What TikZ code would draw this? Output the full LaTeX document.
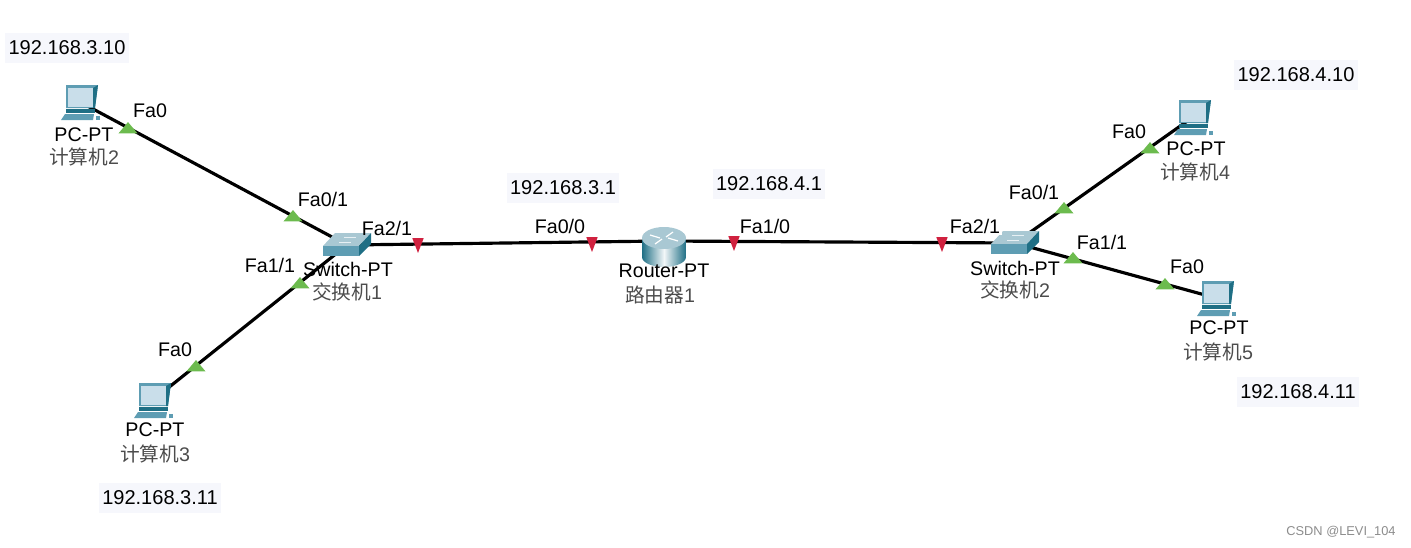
\documentclass[tikz,border=0pt]{standalone}
\usepackage{fontspec}
\setmainfont{Liberation Sans}
\newfontfamily\cjk{Noto Sans CJK SC}
\usetikzlibrary{shapes.geometric}

\definecolor{TealDark}{HTML}{1F6F85}
\definecolor{TealMid}{HTML}{5E9DB3}
\definecolor{TealLight}{HTML}{A9C8D3}
\definecolor{ScreenBlue}{HTML}{C9DEEA}
\definecolor{IpBack}{HTML}{F6F7FC}
\definecolor{PortGreen}{HTML}{6CBB4E}
\definecolor{PortRed}{HTML}{D0213F}

\tikzset{
   Dev/.style = {inner sep=0pt, minimum size=0pt},
   Link/.style = {line width=1.8pt, black},
   Port/.style = {font=\fontsize{11.2}{12}\selectfont, inner sep=1pt},
   PortCut/.style = {Port, fill=white},
   Name/.style = {font=\fontsize{11.2}{12}\selectfont, inner sep=0pt},
   Zh/.style = {font=\fontsize{11.2}{12}\selectfont, text=black!70, inner sep=0pt},
   Ip/.style = {font=\fontsize{11.4}{12}\selectfont, fill=IpBack, minimum height=17.5pt, inner xsep=2pt, inner ysep=0pt},
   TipUp/.style = {isosceles triangle, isosceles triangle apex angle=80, shape border rotate=90,
      fill=PortGreen, inner sep=0pt, minimum height=6.5pt},
   TipDown/.style = {isosceles triangle, isosceles triangle apex angle=42, shape border rotate=-80,
      fill=PortRed, inner sep=0pt, minimum height=8.5pt},
   pcicon/.pic = {
      \fill[TealMid] (-14,-17) -- (18,-17) -- (15,6) -- (-14,6) -- cycle;
      \fill[TealDark] (13,-14) -- (18,-17) -- (15,6) -- (13,6) -- cycle;
      \fill[ScreenBlue] (-12,-14) -- (13,-14) -- (13,5) -- (-12,5) -- cycle;
      \fill[TealDark] (-14,7) -- (15,7) -- (15,11) -- (-14,11) -- cycle;
      \fill[TealMid] (-15,12) -- (14,12) -- (13,18) -- (-19,18) -- cycle;
      \fill[TealMid] (16,14) -- (20,14) -- (20,18) -- (16,18) -- cycle;
   },
   switchicon/.pic = {
      \fill[TealLight] (-24,1) -- (-12,-12) -- (24,-12) -- (12,1) -- cycle;
      \fill[TealMid] (-24,1) -- (12,1) -- (12,11) -- (-24,11) -- cycle;
      \fill[TealDark] (12,1) -- (24,-12) -- (24,-1) -- (12,11) -- cycle;
      \draw[white!85!TealMid, line width=.4pt] (-8,-3) -- (4,-3) (-3,-8) -- (9,-8);
   },
   routericon/.pic = {
      \shade[left color=TealDark, right color=TealDark, middle color=white!85!TealLight]
         (-22,-3) arc[start angle=180, end angle=360, x radius=22, y radius=-10] -- (22,16)
         arc[start angle=0, end angle=-180, x radius=22, y radius=-10] -- cycle;
      \fill[TealLight] (0,-3) ellipse[x radius=22, y radius=11];
      \draw[white, line width=.7pt] (-14,-6) -- (-4,-3) (14,0) -- (4,-3) (-9,3) -- (-2,-2) (9,-9) -- (2,-4);
   },
}

\begin{document}
\begin{tikzpicture}[x=0.02cm, y=-0.02cm]
   \useasboundingbox (0,0) rectangle (1411,548);
   % devices
   \node[Dev] (PCb) at (80,102) {};
   \node[Dev] (PCc) at (153,400) {};
   \node[Dev] (PCd) at (1193,117) {};
   \node[Dev] (PCe) at (1216,298) {};
   \node[Dev] (SWa) at (347,245) {};
   \node[Dev] (SWb) at (1015,243) {};
   \node[Dev] (Rt) at (664,241) {};
   % links
   \draw[Link] (PCb) -- (SWa);
   \draw[Link] (PCc) -- (SWa);
   \draw[Link] (SWa) -- (Rt);
   \draw[Link] (Rt) -- (SWb);
   \draw[Link] (SWb) -- (PCd);
   \draw[Link] (SWb) -- (PCe);
   % icons
   \pic at (PCb) {pcicon};
   \pic at (PCc) {pcicon};
   \pic at (PCd) {pcicon};
   \pic at (PCe) {pcicon};
   \pic at (SWa) {switchicon};
   \pic at (SWb) {switchicon};
   \pic at (Rt) {routericon};
   % port marks
   \node[TipUp] (gA) at (128,129) {};
   \node[TipUp] (gB) at (293,217) {};
   \node[TipUp] (gC) at (300,284) {};
   \node[TipUp] (gD) at (196,367) {};
   \node[TipUp] (gE) at (1150,149) {};
   \node[TipUp] (gF) at (1064,209) {};
   \node[TipUp] (gG) at (1073,259) {};
   \node[TipUp] (gH) at (1165,285) {};
   % port labels
   \node[Port] (pA) at (150,111) {Fa0};
   \node[Port] (pB) at (323,199) {Fa0/1};
   \node[Port] (pC) at (387,228) {Fa2/1};
   \node[Port] (pD) at (270,265) {Fa1/1};
   \node[Port] (pE) at (175,350) {Fa0};
   \node[PortCut] (pF) at (560,226) {Fa0/0};
   \node[PortCut] (pG) at (765,226) {Fa1/0};
   \node[PortCut] (pH) at (975,226) {Fa2/1};
   \node[Port] (pI) at (1034,192) {Fa0/1};
   \node[Port] (pJ) at (1102,242) {Fa1/1};
   \node[Port] (pK) at (1129,132) {Fa0};
   \node[Port] (pL) at (1187,267) {Fa0};
   \node[TipDown] (rA) at (418,242) {};
   \node[TipDown] (rB) at (592,241) {};
   \node[TipDown] (rC) at (734,240) {};
   \node[TipDown] (rD) at (942,241) {};
   % device names
   \node[Name] (nB) at (84,135) {PC-PT};
   \node[Zh] (zB) at (84,157) {\cjk 计算机\rmfamily 2};
   \node[Name] (nC) at (155,430) {PC-PT};
   \node[Zh] (zC) at (155,454) {\cjk 计算机\rmfamily 3};
   \node[Name] (nD) at (1196,149) {PC-PT};
   \node[Zh] (zD) at (1195,172) {\cjk 计算机\rmfamily 4};
   \node[Name] (nE) at (1219,328) {PC-PT};
   \node[Zh] (zE) at (1218,352) {\cjk 计算机\rmfamily 5};
   \node[Name] (nSa) at (348,269) {Switch-PT};
   \node[Zh] (zSa) at (347,292) {\cjk 交换机\rmfamily 1};
   \node[Name] (nSb) at (1015,268) {Switch-PT};
   \node[Zh] (zSb) at (1015,290) {\cjk 交换机\rmfamily 2};
   \node[Name] (nR) at (664,271) {Router-PT};
   \node[Zh] (zR) at (660,295) {\cjk 路由器\rmfamily 1};
   % addresses
   \node[Ip] (ipA) at (67,48) {192.168.3.10};
   \node[Ip] (ipB) at (160,498) {192.168.3.11};
   \node[Ip] (ipC) at (563,188) {192.168.3.1};
   \node[Ip] (ipD) at (769,184) {192.168.4.1};
   \node[Ip] (ipE) at (1296,75) {192.168.4.10};
   \node[Ip] (ipF) at (1298,392) {192.168.4.11};
   \node[font=\fontsize{7.3}{8}\selectfont, text=black!45, inner sep=0pt] (mark) at (1341,532) {CSDN @LEVI\_104};
\end{tikzpicture}
\end{document}
